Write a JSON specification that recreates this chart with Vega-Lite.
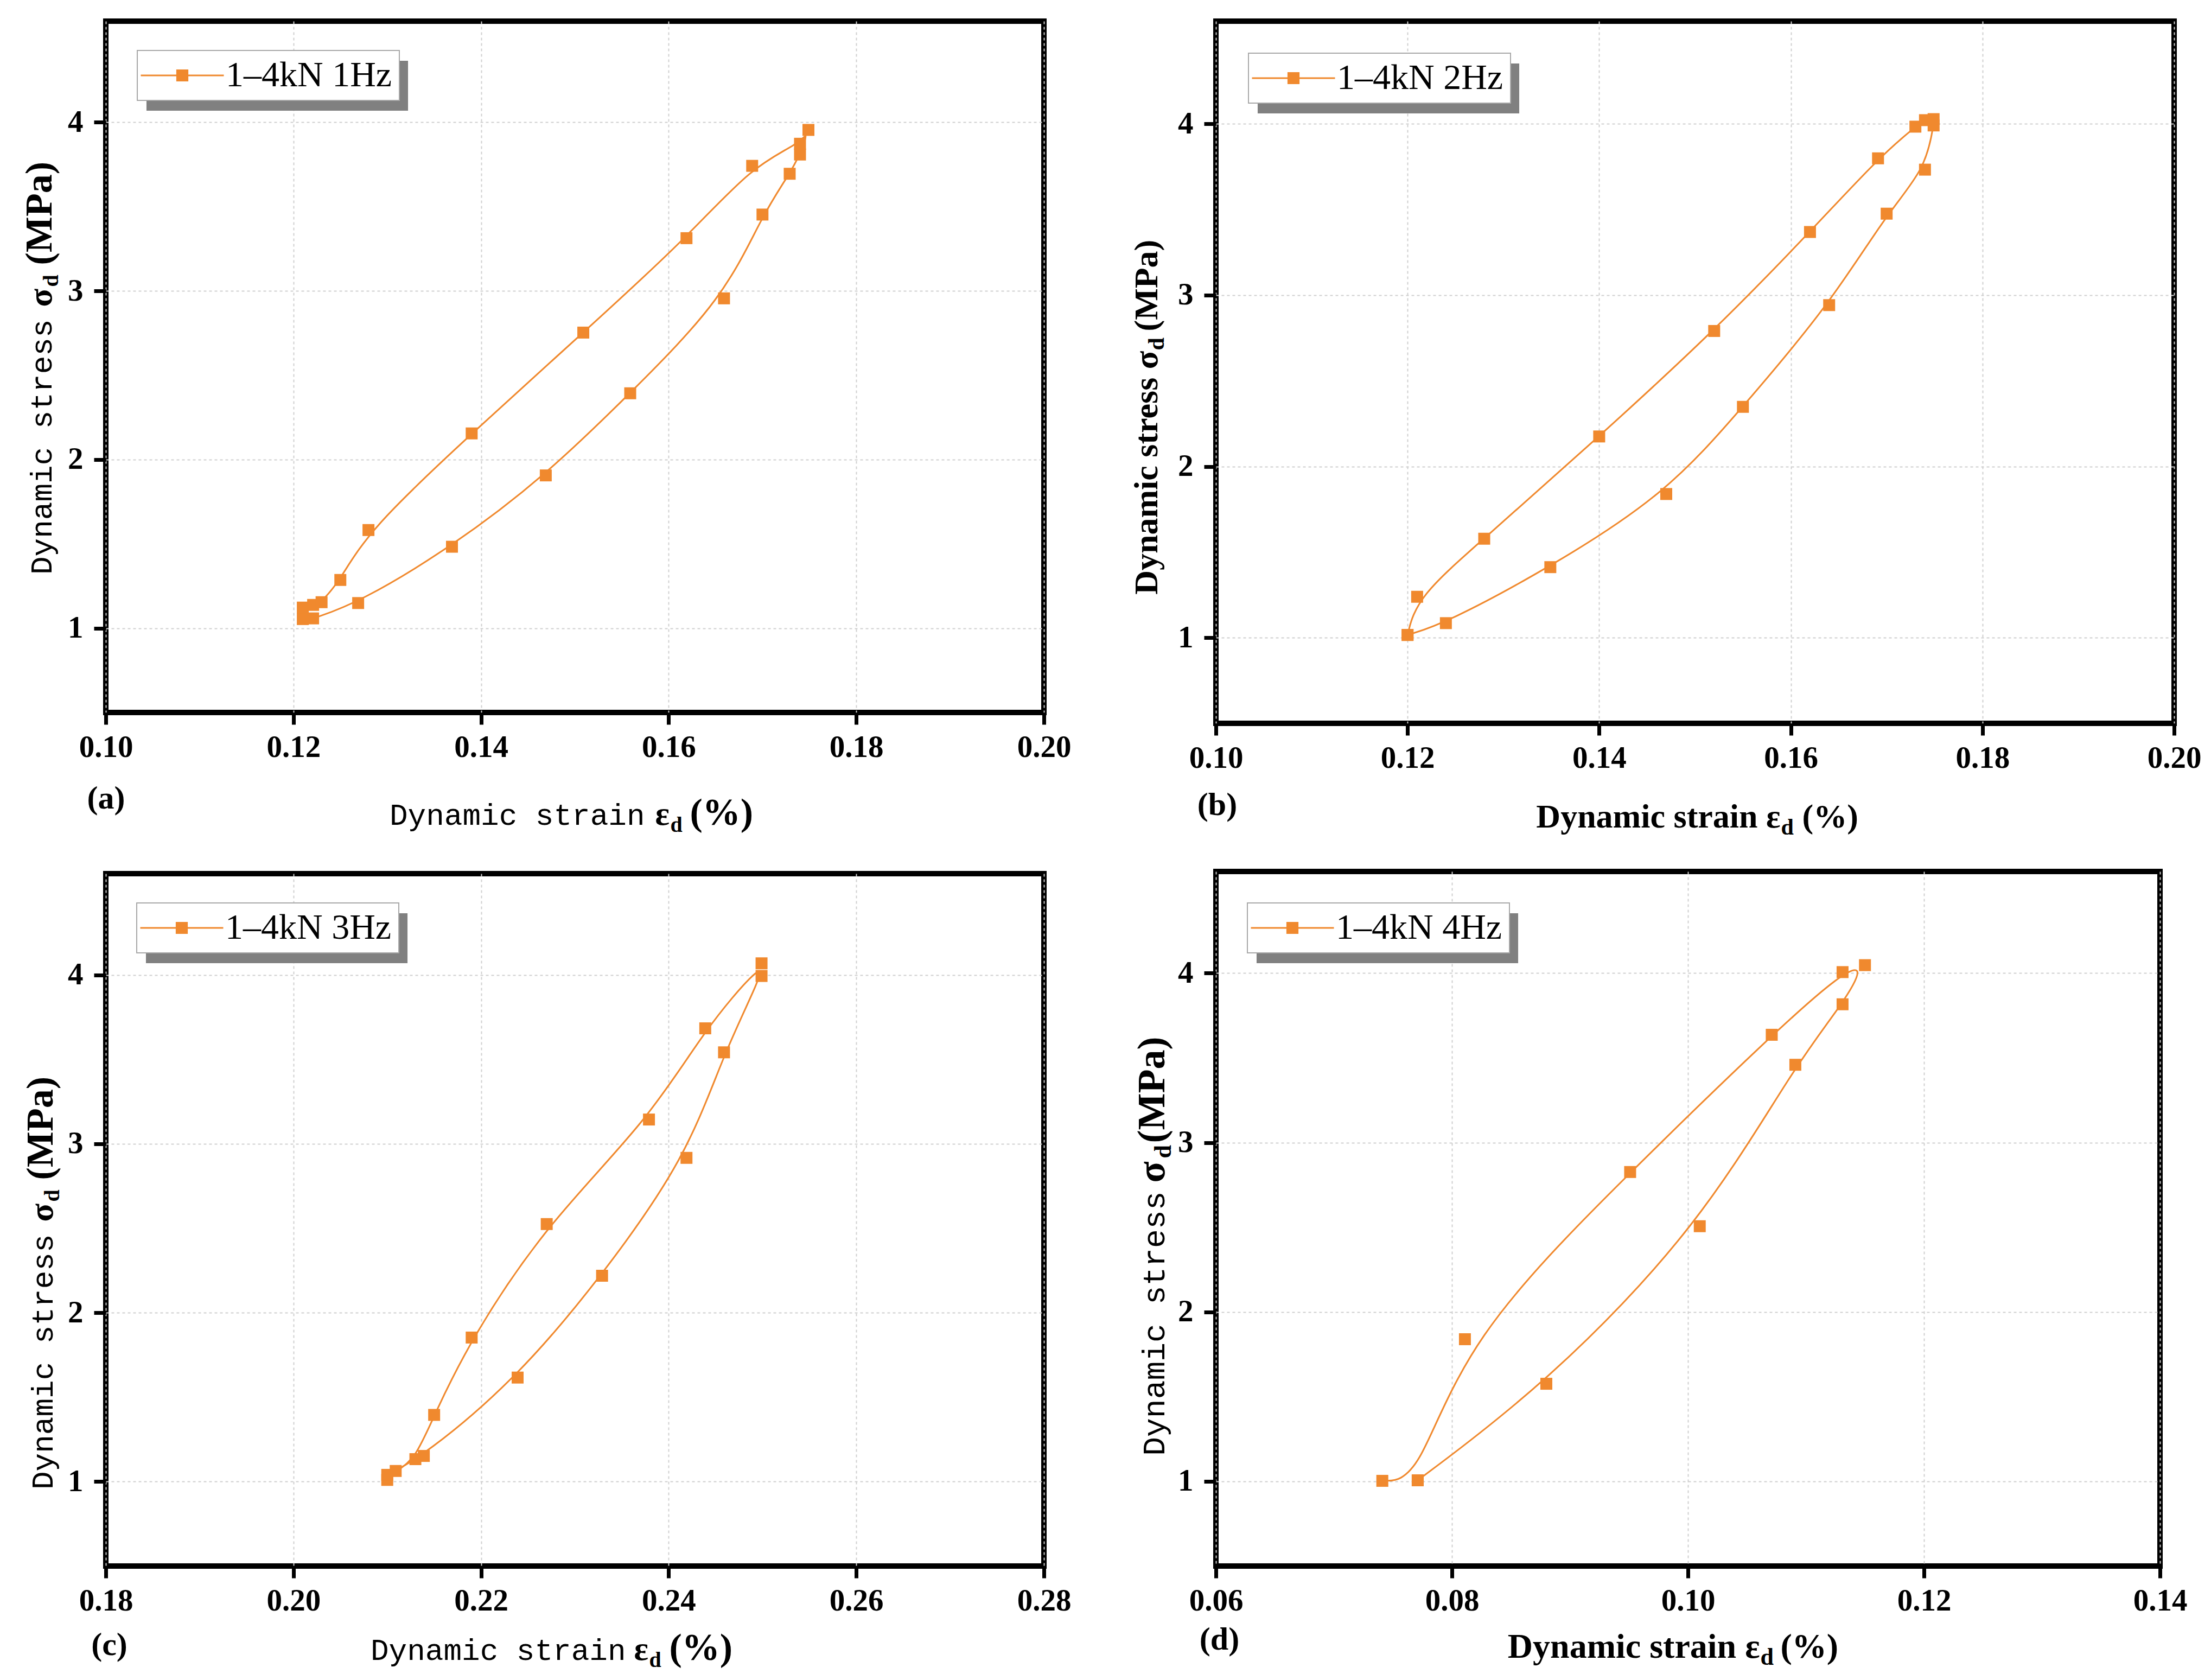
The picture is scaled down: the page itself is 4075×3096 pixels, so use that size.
{
  "$schema": "https://vega.github.io/schema/vega-lite/v6.json",
  "background": "white",
  "padding": {"left": 33, "top": 34, "right": 5, "bottom": 5},
  "datasets": {
    "a": [
      {"i": 1, "strain": 0.1210, "stress": 1.054, "series": "1–4kN 1Hz"},
      {"i": 2, "strain": 0.1210, "stress": 1.122, "series": "1–4kN 1Hz"},
      {"i": 3, "strain": 0.1221, "stress": 1.138, "series": "1–4kN 1Hz"},
      {"i": 4, "strain": 0.1230, "stress": 1.154, "series": "1–4kN 1Hz"},
      {"i": 5, "strain": 0.1250, "stress": 1.286, "series": "1–4kN 1Hz"},
      {"i": 6, "strain": 0.1280, "stress": 1.582, "series": "1–4kN 1Hz"},
      {"i": 7, "strain": 0.1390, "stress": 2.155, "series": "1–4kN 1Hz"},
      {"i": 8, "strain": 0.1509, "stress": 2.753, "series": "1–4kN 1Hz"},
      {"i": 9, "strain": 0.1619, "stress": 3.313, "series": "1–4kN 1Hz"},
      {"i": 10, "strain": 0.1689, "stress": 3.742, "series": "1–4kN 1Hz"},
      {"i": 11, "strain": 0.1740, "stress": 3.873, "series": "1–4kN 1Hz"},
      {"i": 12, "strain": 0.1749, "stress": 3.955, "series": "1–4kN 1Hz"},
      {"i": 13, "strain": 0.1740, "stress": 3.809, "series": "1–4kN 1Hz"},
      {"i": 14, "strain": 0.1729, "stress": 3.695, "series": "1–4kN 1Hz"},
      {"i": 15, "strain": 0.1700, "stress": 3.453, "series": "1–4kN 1Hz"},
      {"i": 16, "strain": 0.1659, "stress": 2.956, "series": "1–4kN 1Hz"},
      {"i": 17, "strain": 0.1559, "stress": 2.393, "series": "1–4kN 1Hz"},
      {"i": 18, "strain": 0.1469, "stress": 1.906, "series": "1–4kN 1Hz"},
      {"i": 19, "strain": 0.1369, "stress": 1.483, "series": "1–4kN 1Hz"},
      {"i": 20, "strain": 0.1269, "stress": 1.149, "series": "1–4kN 1Hz"},
      {"i": 21, "strain": 0.1221, "stress": 1.058, "series": "1–4kN 1Hz"}
    ],
    "b": [
      {"i": 1, "strain": 0.1200, "stress": 1.016, "series": "1–4kN 2Hz"},
      {"i": 2, "strain": 0.1210, "stress": 1.239, "series": "1–4kN 2Hz"},
      {"i": 3, "strain": 0.1280, "stress": 1.578, "series": "1–4kN 2Hz"},
      {"i": 4, "strain": 0.1400, "stress": 2.175, "series": "1–4kN 2Hz"},
      {"i": 5, "strain": 0.1520, "stress": 2.791, "series": "1–4kN 2Hz"},
      {"i": 6, "strain": 0.1620, "stress": 3.369, "series": "1–4kN 2Hz"},
      {"i": 7, "strain": 0.1691, "stress": 3.799, "series": "1–4kN 2Hz"},
      {"i": 8, "strain": 0.1730, "stress": 3.984, "series": "1–4kN 2Hz"},
      {"i": 9, "strain": 0.1740, "stress": 4.022, "series": "1–4kN 2Hz"},
      {"i": 10, "strain": 0.1749, "stress": 4.028, "series": "1–4kN 2Hz"},
      {"i": 11, "strain": 0.1749, "stress": 3.991, "series": "1–4kN 2Hz"},
      {"i": 12, "strain": 0.1740, "stress": 3.733, "series": "1–4kN 2Hz"},
      {"i": 13, "strain": 0.1700, "stress": 3.476, "series": "1–4kN 2Hz"},
      {"i": 14, "strain": 0.1640, "stress": 2.942, "series": "1–4kN 2Hz"},
      {"i": 15, "strain": 0.1550, "stress": 2.348, "series": "1–4kN 2Hz"},
      {"i": 16, "strain": 0.1470, "stress": 1.839, "series": "1–4kN 2Hz"},
      {"i": 17, "strain": 0.1349, "stress": 1.412, "series": "1–4kN 2Hz"},
      {"i": 18, "strain": 0.1240, "stress": 1.085, "series": "1–4kN 2Hz"},
      {"i": 19, "strain": 0.1200, "stress": 1.016, "series": "1–4kN 2Hz"}
    ],
    "c": [
      {"i": 1, "strain": 0.2100, "stress": 1.010, "series": "1–4kN 3Hz"},
      {"i": 2, "strain": 0.2109, "stress": 1.063, "series": "1–4kN 3Hz"},
      {"i": 3, "strain": 0.2130, "stress": 1.133, "series": "1–4kN 3Hz"},
      {"i": 4, "strain": 0.2150, "stress": 1.395, "series": "1–4kN 3Hz"},
      {"i": 5, "strain": 0.2190, "stress": 1.853, "series": "1–4kN 3Hz"},
      {"i": 6, "strain": 0.2270, "stress": 2.525, "series": "1–4kN 3Hz"},
      {"i": 7, "strain": 0.2379, "stress": 3.144, "series": "1–4kN 3Hz"},
      {"i": 8, "strain": 0.2439, "stress": 3.684, "series": "1–4kN 3Hz"},
      {"i": 9, "strain": 0.2499, "stress": 4.069, "series": "1–4kN 3Hz"},
      {"i": 10, "strain": 0.2499, "stress": 3.994, "series": "1–4kN 3Hz"},
      {"i": 11, "strain": 0.2459, "stress": 3.542, "series": "1–4kN 3Hz"},
      {"i": 12, "strain": 0.2419, "stress": 2.917, "series": "1–4kN 3Hz"},
      {"i": 13, "strain": 0.2329, "stress": 2.219, "series": "1–4kN 3Hz"},
      {"i": 14, "strain": 0.2239, "stress": 1.616, "series": "1–4kN 3Hz"},
      {"i": 15, "strain": 0.2139, "stress": 1.152, "series": "1–4kN 3Hz"},
      {"i": 16, "strain": 0.2100, "stress": 1.040, "series": "1–4kN 3Hz"}
    ],
    "d": [
      {"i": 1, "strain": 0.0741, "stress": 1.003, "series": "1–4kN 4Hz"},
      {"i": 2, "strain": 0.0771, "stress": 1.006, "series": "1–4kN 4Hz"},
      {"i": 3, "strain": 0.0811, "stress": 1.839, "series": "1–4kN 4Hz"},
      {"i": 4, "strain": 0.0951, "stress": 2.826, "series": "1–4kN 4Hz"},
      {"i": 5, "strain": 0.1071, "stress": 3.636, "series": "1–4kN 4Hz"},
      {"i": 6, "strain": 0.1131, "stress": 4.006, "series": "1–4kN 4Hz"},
      {"i": 7, "strain": 0.1150, "stress": 4.047, "series": "1–4kN 4Hz"},
      {"i": 8, "strain": 0.1131, "stress": 3.816, "series": "1–4kN 4Hz"},
      {"i": 9, "strain": 0.1091, "stress": 3.459, "series": "1–4kN 4Hz"},
      {"i": 10, "strain": 0.1010, "stress": 2.506, "series": "1–4kN 4Hz"},
      {"i": 11, "strain": 0.0880, "stress": 1.576, "series": "1–4kN 4Hz"},
      {"i": 12, "strain": 0.0771, "stress": 1.006, "series": "1–4kN 4Hz"}
    ]
  },
  "spacing": 98,
  "resolve": {"scale": {"color": "independent", "shape": "independent"}, "legend": {"color": "independent", "shape": "independent"}},
  "hconcat": [
    {
      "spacing": 60,
      "resolve": {"scale": {"color": "independent", "shape": "independent"}, "legend": {"color": "independent", "shape": "independent"}},
      "vconcat": [
        {
          "width": 1729, "height": 1274,
          "data": {"name": "a"},
          "resolve": {"axis": {"x": "independent", "y": "independent"}},
          "layer": [
            {
              "mark": {"type": "line", "interpolate": "basis", "color": "#F0892E", "strokeWidth": 3},
              "encoding": {
                "x": {"field": "strain", "type": "quantitative", "scale": {"domain": [0.1, 0.2], "nice": false, "zero": false},
                  "axis": {"orient": "bottom", "values": [0.1, 0.12, 0.14, 0.16, 0.18, 0.2], "format": ".2f", "title": "Dynamic strain", "titleFont": "Liberation Mono", "titleFontWeight": "normal", "titleFontSize": 56, "titleAlign": "right", "titleX": 993, "titleY": 206}},
                "y": {"field": "stress", "type": "quantitative", "scale": {"domain": [0.5, 4.6], "nice": false, "zero": false},
                  "axis": {"orient": "left", "values": [1, 2, 3, 4], "format": "d", "title": "Dynamic stress", "titleFont": "Liberation Mono", "titleFontWeight": "normal", "titleFontSize": 56, "titleAlign": "right", "titleX": -101, "titleY": 549}},
                "order": {"field": "i", "type": "quantitative"}
              }
            },
            {
              "mark": {"type": "square", "size": 484, "color": "#F0892E", "filled": true, "opacity": 1},
              "encoding": {
                "x": {"field": "strain", "type": "quantitative", "scale": {"domain": [0.1, 0.2], "nice": false, "zero": false},
                  "axis": {"orient": "bottom", "labels": false, "ticks": false, "grid": false, "title": "ε", "titleFontSize": 62, "titleAlign": "left", "titleX": 1012, "titleY": 206}},
                "y": {"field": "stress", "type": "quantitative", "scale": {"domain": [0.5, 4.6], "nice": false, "zero": false},
                  "axis": {"orient": "left", "labels": false, "ticks": false, "grid": false, "title": "σ", "titleFontSize": 62, "titleAlign": "left", "titleX": -101, "titleY": 526}}
              }
            },
            {
              "mark": {"type": "point", "filled": true, "opacity": 0},
              "encoding": {
                "x": {"field": "strain", "type": "quantitative", "scale": {"domain": [0.1, 0.2], "nice": false, "zero": false},
                  "axis": {"orient": "bottom", "labels": false, "ticks": false, "grid": false, "title": "d", "titleFontSize": 40, "titleAlign": "left", "titleX": 1040, "titleY": 219}},
                "y": {"field": "stress", "type": "quantitative", "scale": {"domain": [0.5, 4.6], "nice": false, "zero": false},
                  "axis": {"orient": "left", "labels": false, "ticks": false, "grid": false, "title": "d", "titleFontSize": 40, "titleAlign": "left", "titleX": -89, "titleY": 489}},
                "shape": {"field": "series", "type": "nominal", "scale": {"range": ["M-2.55,0H-0.35M0.35,0H2.55M-0.32,-0.32H0.32V0.32H-0.32Z"]},
                  "legend": {"title": null, "orient": "none", "legendX": 58, "legendY": 54, "symbolFillColor": "#F0892E", "symbolStrokeColor": "#F0892E", "symbolOpacity": 1, "fillColor": "white", "strokeColor": "#a8a8a8", "zindex": 2}},
                "color": {"field": "series", "type": "nominal", "scale": {"domain": ["1–4kN 1Hz"], "range": ["#808080"]},
                  "legend": {"title": null, "orient": "none", "legendX": 75, "legendY": 73, "padding": 0, "symbolType": "M-5.24,-1H5.24V1H-5.24Z", "symbolSize": 8464, "symbolStrokeWidth": 0, "symbolOffset": 195, "symbolOpacity": 1, "labelFontSize": 1, "labelOffset": 0, "labelExpr": "''", "zindex": 1}}
              }
            },
            {
              "mark": {"type": "point", "opacity": 0},
              "encoding": {
                "x": {"field": "strain", "type": "quantitative", "scale": {"domain": [0.1, 0.2], "nice": false, "zero": false},
                  "axis": {"orient": "bottom", "labels": false, "ticks": false, "grid": false, "title": "(%)", "titleFontSize": 70, "titleAlign": "left", "titleX": 1076, "titleY": 206}},
                "y": {"field": "stress", "type": "quantitative", "scale": {"domain": [0.5, 4.6], "nice": false, "zero": false},
                  "axis": {"orient": "left", "labels": false, "ticks": false, "grid": false, "title": "(MPa)", "titleFontSize": 70, "titleAlign": "left", "titleX": -101, "titleY": 449}}
              }
            },
            {
              "mark": {"type": "point", "opacity": 0},
              "encoding": {
                "x": {"field": "strain", "type": "quantitative", "scale": {"domain": [0.1, 0.2], "nice": false, "zero": false},
                  "axis": {"orient": "bottom", "labels": false, "ticks": false, "grid": false, "title": "(a)", "titleFontSize": 60, "titleAlign": "center", "titleX": 0, "titleY": 176}},
                "y": {"field": "stress", "type": "quantitative", "scale": {"domain": [0.5, 4.6], "nice": false, "zero": false}, "axis": null}
              }
            }
          ]
        },
        {
          "width": 1729, "height": 1276,
          "data": {"name": "c"},
          "resolve": {"axis": {"x": "independent", "y": "independent"}},
          "layer": [
            {
              "mark": {"type": "line", "interpolate": "basis", "color": "#F0892E", "strokeWidth": 3},
              "encoding": {
                "x": {"field": "strain", "type": "quantitative", "scale": {"domain": [0.18, 0.28], "nice": false, "zero": false},
                  "axis": {"orient": "bottom", "values": [0.18, 0.2, 0.22, 0.24, 0.26, 0.28], "format": ".2f", "title": "Dynamic strain", "titleFont": "Liberation Mono", "titleFontWeight": "normal", "titleFontSize": 56, "titleAlign": "right", "titleX": 958, "titleY": 172}},
                "y": {"field": "stress", "type": "quantitative", "scale": {"domain": [0.5, 4.6], "nice": false, "zero": false},
                  "axis": {"orient": "left", "values": [1, 2, 3, 4], "format": "d", "title": "Dynamic stress", "titleFont": "Liberation Mono", "titleFontWeight": "normal", "titleFontSize": 56, "titleAlign": "right", "titleX": -99, "titleY": 664}},
                "order": {"field": "i", "type": "quantitative"}
              }
            },
            {
              "mark": {"type": "square", "size": 484, "color": "#F0892E", "filled": true, "opacity": 1},
              "encoding": {
                "x": {"field": "strain", "type": "quantitative", "scale": {"domain": [0.18, 0.28], "nice": false, "zero": false},
                  "axis": {"orient": "bottom", "labels": false, "ticks": false, "grid": false, "title": "ε", "titleFontSize": 62, "titleAlign": "left", "titleX": 973, "titleY": 172}},
                "y": {"field": "stress", "type": "quantitative", "scale": {"domain": [0.5, 4.6], "nice": false, "zero": false},
                  "axis": {"orient": "left", "labels": false, "ticks": false, "grid": false, "title": "σ", "titleFontSize": 62, "titleAlign": "left", "titleX": -99, "titleY": 641}}
              }
            },
            {
              "mark": {"type": "point", "filled": true, "opacity": 0},
              "encoding": {
                "x": {"field": "strain", "type": "quantitative", "scale": {"domain": [0.18, 0.28], "nice": false, "zero": false},
                  "axis": {"orient": "bottom", "labels": false, "ticks": false, "grid": false, "title": "d", "titleFontSize": 40, "titleAlign": "left", "titleX": 1001, "titleY": 185}},
                "y": {"field": "stress", "type": "quantitative", "scale": {"domain": [0.5, 4.6], "nice": false, "zero": false},
                  "axis": {"orient": "left", "labels": false, "ticks": false, "grid": false, "title": "d", "titleFontSize": 40, "titleAlign": "left", "titleX": -87, "titleY": 604}},
                "shape": {"field": "series", "type": "nominal", "scale": {"range": ["M-2.55,0H-0.35M0.35,0H2.55M-0.32,-0.32H0.32V0.32H-0.32Z"]},
                  "legend": {"title": null, "orient": "none", "legendX": 57, "legendY": 54, "symbolFillColor": "#F0892E", "symbolStrokeColor": "#F0892E", "symbolOpacity": 1, "fillColor": "white", "strokeColor": "#a8a8a8", "zindex": 2}},
                "color": {"field": "series", "type": "nominal", "scale": {"domain": ["1–4kN 3Hz"], "range": ["#808080"]},
                  "legend": {"title": null, "orient": "none", "legendX": 74, "legendY": 73, "padding": 0, "symbolType": "M-5.24,-1H5.24V1H-5.24Z", "symbolSize": 8464, "symbolStrokeWidth": 0, "symbolOffset": 195, "symbolOpacity": 1, "labelFontSize": 1, "labelOffset": 0, "labelExpr": "''", "zindex": 1}}
              }
            },
            {
              "mark": {"type": "point", "opacity": 0},
              "encoding": {
                "x": {"field": "strain", "type": "quantitative", "scale": {"domain": [0.18, 0.28], "nice": false, "zero": false},
                  "axis": {"orient": "bottom", "labels": false, "ticks": false, "grid": false, "title": "(%)", "titleFontSize": 70, "titleAlign": "left", "titleX": 1038, "titleY": 172}},
                "y": {"field": "stress", "type": "quantitative", "scale": {"domain": [0.5, 4.6], "nice": false, "zero": false},
                  "axis": {"orient": "left", "labels": false, "ticks": false, "grid": false, "title": "(MPa)", "titleFontSize": 70, "titleAlign": "left", "titleX": -99, "titleY": 564}}
              }
            },
            {
              "mark": {"type": "point", "opacity": 0},
              "encoding": {
                "x": {"field": "strain", "type": "quantitative", "scale": {"domain": [0.18, 0.28], "nice": false, "zero": false},
                  "axis": {"orient": "bottom", "labels": false, "ticks": false, "grid": false, "title": "(c)", "titleFontSize": 60, "titleAlign": "center", "titleX": 6, "titleY": 163}},
                "y": {"field": "stress", "type": "quantitative", "scale": {"domain": [0.5, 4.6], "nice": false, "zero": false}, "axis": null}
              }
            }
          ]
        }
      ]
    },
    {
      "spacing": 51,
      "resolve": {"scale": {"color": "independent", "shape": "independent"}, "legend": {"color": "independent", "shape": "independent"}},
      "vconcat": [
        {
          "width": 1766, "height": 1294,
          "data": {"name": "b"},
          "resolve": {"axis": {"x": "independent", "y": "independent"}},
          "layer": [
            {
              "mark": {"type": "line", "interpolate": "basis", "color": "#F0892E", "strokeWidth": 3},
              "encoding": {
                "x": {"field": "strain", "type": "quantitative", "scale": {"domain": [0.1, 0.2], "nice": false, "zero": false},
                  "axis": {"orient": "bottom", "values": [0.1, 0.12, 0.14, 0.16, 0.18, 0.2], "format": ".2f", "title": "Dynamic strain ε", "titleFontSize": 62, "titleAlign": "right", "titleX": 1040, "titleY": 191}},
                "y": {"field": "stress", "type": "quantitative", "scale": {"domain": [0.5, 4.6], "nice": false, "zero": false},
                  "axis": {"orient": "left", "values": [1, 2, 3, 4], "format": "d", "title": "Dynamic stress σ", "titleFontSize": 62, "titleAlign": "right", "titleX": -109, "titleY": 607}},
                "order": {"field": "i", "type": "quantitative"}
              }
            },
            {
              "mark": {"type": "square", "size": 484, "color": "#F0892E", "filled": true, "opacity": 1},
              "encoding": {
                "x": {"field": "strain", "type": "quantitative", "scale": {"domain": [0.1, 0.2], "nice": false, "zero": false},
                  "axis": {"orient": "bottom", "labels": false, "ticks": false, "grid": false, "title": "d", "titleFontSize": 42, "titleAlign": "left", "titleX": 1041, "titleY": 204}},
                "y": {"field": "stress", "type": "quantitative", "scale": {"domain": [0.5, 4.6], "nice": false, "zero": false},
                  "axis": {"orient": "left", "labels": false, "ticks": false, "grid": false, "title": "d", "titleFontSize": 42, "titleAlign": "left", "titleX": -97, "titleY": 606}}
              }
            },
            {
              "mark": {"type": "point", "filled": true, "opacity": 0},
              "encoding": {
                "x": {"field": "strain", "type": "quantitative", "scale": {"domain": [0.1, 0.2], "nice": false, "zero": false},
                  "axis": {"orient": "bottom", "labels": false, "ticks": false, "grid": false, "title": "(%)", "titleFontSize": 62, "titleAlign": "left", "titleX": 1080, "titleY": 191}},
                "y": {"field": "stress", "type": "quantitative", "scale": {"domain": [0.5, 4.6], "nice": false, "zero": false},
                  "axis": {"orient": "left", "labels": false, "ticks": false, "grid": false, "title": "(MPa)", "titleFontSize": 62, "titleAlign": "left", "titleX": -109, "titleY": 571}},
                "shape": {"field": "series", "type": "nominal", "scale": {"range": ["M-2.55,0H-0.35M0.35,0H2.55M-0.32,-0.32H0.32V0.32H-0.32Z"]},
                  "legend": {"title": null, "orient": "none", "legendX": 60, "legendY": 59, "symbolFillColor": "#F0892E", "symbolStrokeColor": "#F0892E", "symbolOpacity": 1, "fillColor": "white", "strokeColor": "#a8a8a8", "zindex": 2}},
                "color": {"field": "series", "type": "nominal", "scale": {"domain": ["1–4kN 2Hz"], "range": ["#808080"]},
                  "legend": {"title": null, "orient": "none", "legendX": 77, "legendY": 78, "padding": 0, "symbolType": "M-5.24,-1H5.24V1H-5.24Z", "symbolSize": 8464, "symbolStrokeWidth": 0, "symbolOffset": 195, "symbolOpacity": 1, "labelFontSize": 1, "labelOffset": 0, "labelExpr": "''", "zindex": 1}}
              }
            },
            {
              "mark": {"type": "point", "opacity": 0},
              "encoding": {
                "x": {"field": "strain", "type": "quantitative", "scale": {"domain": [0.1, 0.2], "nice": false, "zero": false},
                  "axis": {"orient": "bottom", "labels": false, "ticks": false, "grid": false, "title": "(b)", "titleFontSize": 60, "titleAlign": "center", "titleX": 2, "titleY": 168}},
                "y": {"field": "stress", "type": "quantitative", "scale": {"domain": [0.5, 4.6], "nice": false, "zero": false}, "axis": null}
              }
            }
          ]
        },
        {
          "width": 1740, "height": 1280,
          "data": {"name": "d"},
          "resolve": {"axis": {"x": "independent", "y": "independent"}},
          "layer": [
            {
              "mark": {"type": "line", "interpolate": "basis", "color": "#F0892E", "strokeWidth": 3},
              "encoding": {
                "x": {"field": "strain", "type": "quantitative", "scale": {"domain": [0.06, 0.14], "nice": false, "zero": false},
                  "axis": {"orient": "bottom", "values": [0.06, 0.08, 0.1, 0.12, 0.14], "format": ".2f", "title": "Dynamic strain ε", "titleFontSize": 64, "titleAlign": "right", "titleX": 1002, "titleY": 168}},
                "y": {"field": "stress", "type": "quantitative", "scale": {"domain": [0.5, 4.6], "nice": false, "zero": false},
                  "axis": {"orient": "left", "values": [1, 2, 3, 4], "format": "d", "title": "Dynamic stress", "titleFont": "Liberation Mono", "titleFontWeight": "normal", "titleFontSize": 58, "titleAlign": "right", "titleX": -96, "titleY": 589}},
                "order": {"field": "i", "type": "quantitative"}
              }
            },
            {
              "mark": {"type": "square", "size": 484, "color": "#F0892E", "filled": true, "opacity": 1},
              "encoding": {
                "x": {"field": "strain", "type": "quantitative", "scale": {"domain": [0.06, 0.14], "nice": false, "zero": false},
                  "axis": {"orient": "bottom", "labels": false, "ticks": false, "grid": false, "title": "d", "titleFontSize": 44, "titleAlign": "left", "titleX": 1003, "titleY": 181}},
                "y": {"field": "stress", "type": "quantitative", "scale": {"domain": [0.5, 4.6], "nice": false, "zero": false},
                  "axis": {"orient": "left", "labels": false, "ticks": false, "grid": false, "title": "σ", "titleFontSize": 72, "titleAlign": "left", "titleX": -96, "titleY": 573}}
              }
            },
            {
              "mark": {"type": "point", "filled": true, "opacity": 0},
              "encoding": {
                "x": {"field": "strain", "type": "quantitative", "scale": {"domain": [0.06, 0.14], "nice": false, "zero": false},
                  "axis": {"orient": "bottom", "labels": false, "ticks": false, "grid": false, "title": "(%)", "titleFontSize": 64, "titleAlign": "left", "titleX": 1040, "titleY": 168}},
                "y": {"field": "stress", "type": "quantitative", "scale": {"domain": [0.5, 4.6], "nice": false, "zero": false},
                  "axis": {"orient": "left", "labels": false, "ticks": false, "grid": false, "title": "d", "titleFontSize": 44, "titleAlign": "left", "titleX": -84, "titleY": 528}},
                "shape": {"field": "series", "type": "nominal", "scale": {"range": ["M-2.55,0H-0.35M0.35,0H2.55M-0.32,-0.32H0.32V0.32H-0.32Z"]},
                  "legend": {"title": null, "orient": "none", "legendX": 58, "legendY": 58, "symbolFillColor": "#F0892E", "symbolStrokeColor": "#F0892E", "symbolOpacity": 1, "fillColor": "white", "strokeColor": "#a8a8a8", "zindex": 2}},
                "color": {"field": "series", "type": "nominal", "scale": {"domain": ["1–4kN 4Hz"], "range": ["#808080"]},
                  "legend": {"title": null, "orient": "none", "legendX": 75, "legendY": 77, "padding": 0, "symbolType": "M-5.24,-1H5.24V1H-5.24Z", "symbolSize": 8464, "symbolStrokeWidth": 0, "symbolOffset": 195, "symbolOpacity": 1, "labelFontSize": 1, "labelOffset": 0, "labelExpr": "''", "zindex": 1}}
              }
            },
            {
              "mark": {"type": "point", "opacity": 0},
              "encoding": {
                "x": {"field": "strain", "type": "quantitative", "scale": {"domain": [0.06, 0.14], "nice": false, "zero": false},
                  "axis": {"orient": "bottom", "labels": false, "ticks": false, "grid": false, "title": "(d)", "titleFontSize": 60, "titleAlign": "center", "titleX": 6, "titleY": 153}},
                "y": {"field": "stress", "type": "quantitative", "scale": {"domain": [0.5, 4.6], "nice": false, "zero": false},
                  "axis": {"orient": "left", "labels": false, "ticks": false, "grid": false, "title": "(MPa)", "titleFontSize": 72, "titleAlign": "left", "titleX": -96, "titleY": 500}}
              }
            }
          ]
        }
      ]
    }
  ],
  "config": {
    "view": {"stroke": "#000000", "strokeWidth": 10},
    "axis": {
      "labelFont": "Liberation Serif", "labelFontWeight": "bold", "labelFontSize": 57, "labelColor": "#000000",
      "labelFlush": false, "labelOverlap": false,
      "tickColor": "#000000", "tickWidth": 7, "tickSize": 22,
      "domain": false,
      "gridColor": "#cfcfcf", "gridDash": [5, 5], "gridWidth": 2,
      "titleFont": "Liberation Serif", "titleFontWeight": "bold", "titleColor": "#000000", "titleBaseline": "alphabetic", "titlePadding": 0
    },
    "axisX": {"labelPadding": 14},
    "axisY": {"labelPadding": 20},
    "legend": {
      "labelFont": "Liberation Serif", "labelFontSize": 66, "labelFontWeight": "normal", "labelColor": "#000000",
      "labelLimit": 1000, "labelOffset": 47, "symbolOffset": 37,
      "symbolSize": 3600, "symbolStrokeWidth": 3, "padding": 13, "strokeWidth": 2
    }
  }
}
